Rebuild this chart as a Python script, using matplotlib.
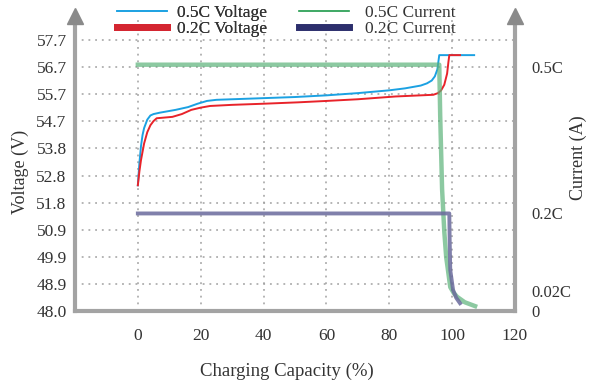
import numpy as np
import matplotlib
matplotlib.use("Agg")
import matplotlib.pyplot as plt
from matplotlib.lines import Line2D

plt.rcParams['font.family'] = ['Liberation Serif', 'DejaVu Serif']

# data
v_ticks = [48.0, 48.9, 49.9, 50.9, 51.8, 52.8, 53.8, 54.7, 55.7, 56.7, 57.7]
x_ticks = [0, 20, 40, 60, 80, 100, 120]

# 0.5C voltage (blue)
cap_05v = [0, 0.5, 1, 1.5, 2, 3, 4, 5, 7, 12, 16, 19, 22, 25, 35, 50, 60, 70,
           80, 85, 90, 92, 93.5, 94.5, 95.3, 95.9, 100, 107]
volt_05 = [52.5, 53.3, 53.9, 54.3, 54.55, 54.85, 55.0, 55.05, 55.1, 55.2, 55.3,
           55.42, 55.52, 55.56, 55.6, 55.66, 55.72, 55.8, 55.9, 55.97, 56.07,
           56.15, 56.25, 56.4, 56.65, 57.16, 57.16, 57.16]

# 0.2C voltage (red)
cap_02v = [0, 0.5, 1, 2, 3, 4, 5, 6, 11, 14, 17, 20, 23, 30, 40, 51, 60, 70,
           82, 90, 94, 95.5, 96.5, 97.5, 98.4, 98.8, 99.1, 102.5]
volt_02 = [52.5, 53.0, 53.4, 54.0, 54.4, 54.65, 54.8, 54.9, 54.95, 55.05,
           55.2, 55.28, 55.34, 55.38, 55.42, 55.47, 55.52, 55.58, 55.68, 55.72,
           55.74, 55.8, 55.9, 56.1, 56.5, 56.9, 57.16, 57.16]

# 0.5C current (green), in C
cap_05i = [0, 95.9, 96.2, 96.8, 97.5, 98.1, 99.4, 100.5, 101.6, 104, 107.3]
curr_05 = [0.505, 0.505, 0.4, 0.25, 0.163, 0.111, 0.049, 0.037, 0.029, 0.018, 0.01]

# 0.2C current (navy)
cap_02i = [0, 99.1, 99.2, 99.4, 100.3, 101.3, 102.5]
curr_02 = [0.2, 0.2, 0.15, 0.084, 0.043, 0.027, 0.016]

c_ticks = [0, 0.02, 0.2, 0.5]
c_labels = ['0', '0.02C', '0.2C', '0.5C']

text_col = '#333333'
spine_col = '#a3a3a3'
grid_col = '#a0a0a0'

fig = plt.figure(figsize=(5.96, 3.85), dpi=100)
ax = fig.add_axes([0.1258, 0.1922, 0.7383, 0.7662])

vlo = 48.0
vhi = 58.56
ax.set_xlim(-20, 120)
ax.set_ylim(vlo, vhi)

ax.plot(cap_05v, volt_05, color='#1ba1e2', lw=1.4, zorder=3)
ax.plot(cap_02v, volt_02, color='#e8232a', lw=1.4, zorder=3)

ax.set_yticks(np.linspace(48.0, 57.7, 11))
ax.set_yticklabels(['%.1f' % v for v in v_ticks])
ax.set_xticks(x_ticks)
ax.tick_params(axis='both', length=0, labelsize=12.5, colors=text_col)
ax.tick_params(axis='y', pad=6)
ax.tick_params(axis='x', pad=12)

ax.grid(True, color=grid_col, linestyle=(0, (1.2, 3.2)), linewidth=1.1, zorder=0)
ax.set_axisbelow(True)

for s in ['left', 'right', 'bottom']:
    ax.spines[s].set_color(spine_col)
    ax.spines[s].set_linewidth(3)
ax.spines['top'].set_visible(False)

# arrows on top of both vertical axes
for xa in [0, 1]:
    ax.plot([xa], [1.0], marker='^', markersize=11, color='#8a8a8a',
            transform=ax.transAxes, clip_on=False, zorder=5)

ax.set_xlabel('Charging Capacity (%)', fontsize=13.5, color=text_col)
ax.xaxis.set_label_coords(0.482, -0.175)
ax.set_ylabel('Voltage (V)', fontsize=13, color=text_col)
ax.yaxis.set_label_coords(-0.104, 0.473)

# current axis: 0 at 48.0 V, 0.5C at 56.7 V
ax2 = ax.twinx()
ctop = 0.5 * (vhi - vlo) / (57.7 - 0.97 - vlo)
ax2.set_ylim(0, ctop)
ax2.plot(cap_05i, curr_05, color='#5cb37a', lw=3.2, alpha=0.7, zorder=2)
ax2.plot(cap_02i, curr_02, color='#6a6a9c', lw=2.8, alpha=0.85, zorder=2)
ax2.set_yticks(c_ticks)
ax2.set_yticklabels(c_labels)
ax2.tick_params(axis='y', length=0, labelsize=12, colors=text_col, pad=12)
for lab in ax2.get_yticklabels():
    if lab.get_text() == '0.02C':
        lab.set_va('bottom')
for s in ax2.spines.values():
    s.set_visible(False)
ax2.set_ylabel('Current (A)', fontsize=13, color=text_col)
ax2.yaxis.set_label_coords(1.125, 0.52)

labels = ['0.5C Voltage', '0.2C Voltage', '0.5C Current', '0.2C Current']
h_volt = [Line2D([], [], color='#1ba1e2', lw=1.2),
          Line2D([], [], color='#d42631', lw=5)]
h_curr = [Line2D([], [], color='#1e9a4a', lw=1.2),
          Line2D([], [], color='#2c2e6c', lw=5)]
leg_kw = dict(loc='lower left', frameon=False, fontsize=12.5,
              handlelength=2.9, labelspacing=0.0, borderpad=0,
              labelcolor=text_col)
leg1 = fig.legend(h_volt, labels[:2], handletextpad=0.55,
                  bbox_to_anchor=(108 / 596, (385 - 46) / 385), **leg_kw)
fig.add_artist(leg1)
fig.legend(h_curr, labels[2:], handletextpad=0.9,
           bbox_to_anchor=(290 / 596, (385 - 46) / 385), **leg_kw)

fig.savefig('out.png', dpi=100)
